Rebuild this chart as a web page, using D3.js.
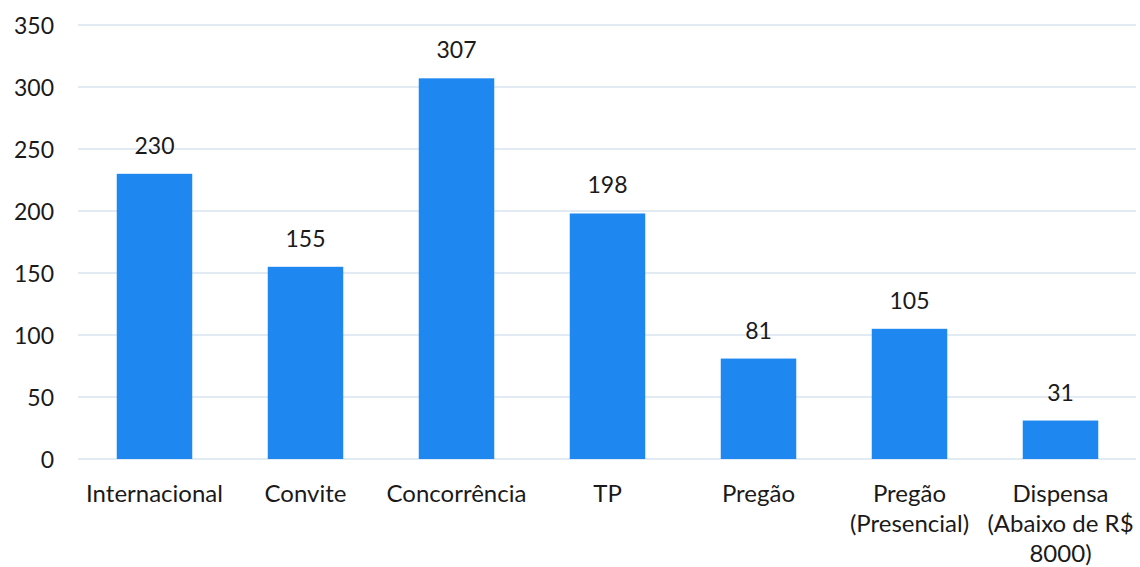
<!DOCTYPE html>
<html><head><meta charset="utf-8">
<script src="https://cdn.jsdelivr.net/npm/d3@7"></script>
<style>body{margin:0;background:#fff}svg{display:block}</style>
</head><body>
<svg id="c" width="1140" height="567"></svg>
<script>
const categories = ["Internacional","Convite","Concorrência","TP","Pregão","Pregão (Presencial)","Dispensa (Abaixo de R$ 8000)"];
const values = [230,155,307,198,81,105,31];
const yTicks = [0,50,100,150,200,250,300,350];

const svg = d3.select("#c");
const font = "Lato, 'Open Sans', sans-serif";
const x = d3.scaleBand().domain(categories).range([79,1136]).paddingInner(0.5).paddingOuter(0.25);
const y = d3.scaleLinear().domain([0,350]).range([459,25]);

svg.append("g").selectAll("line").data(yTicks).join("line")
  .attr("x1",78).attr("x2",1136)
  .attr("y1",d=>y(d)).attr("y2",d=>y(d))
  .attr("stroke","#d8e4f0").attr("stroke-width",1.5);

const yAxis = svg.append("g").attr("transform","translate(54,0)")
  .call(d3.axisLeft(y).tickValues(yTicks).tickSize(0).tickPadding(0));
yAxis.select(".domain").remove();
yAxis.selectAll("text").attr("font-family",font).attr("font-size",23).attr("fill","#1a1a1a").attr("dy","0.35em");

svg.append("g").selectAll("rect").data(values).join("rect")
  .attr("x",(d,i)=>x(categories[i])).attr("width",x.bandwidth())
  .attr("y",d=>y(d)).attr("height",d=>y(0)-y(d))
  .attr("fill","#1f88f0");

svg.append("g").selectAll("text").data(values).join("text")
  .attr("x",(d,i)=>x(categories[i])+x.bandwidth()/2)
  .attr("y",d=>y(d)-20)
  .attr("text-anchor","middle").attr("font-family",font).attr("font-size",23).attr("fill","#1a1a1a")
  .text(d=>d);

const xAxis = svg.append("g").attr("transform","translate(0,459)")
  .call(d3.axisBottom(x).tickSize(0).tickPadding(0));
xAxis.select(".domain").remove();
xAxis.selectAll("text").attr("font-family",font).attr("font-size",24).attr("fill","#1a1a1a")
  .attr("y",0).attr("dy",null)
  .each(function(d){
    const t = d3.select(this); const words = d.split(" "); t.text(null);
    let lines=[], line=[];
    const tmp = t.append("tspan");
    words.forEach(w=>{
      line.push(w); tmp.text(line.join(" "));
      if (tmp.node().getComputedTextLength()>150 && line.length>1){ line.pop(); lines.push(line.join(" ")); line=[w]; }
    });
    lines.push(line.join(" ")); tmp.remove();
    lines.forEach((l,i)=>t.append("tspan").attr("x",0).attr("y",43+i*30).text(l));
  });
</script>
</body></html>
